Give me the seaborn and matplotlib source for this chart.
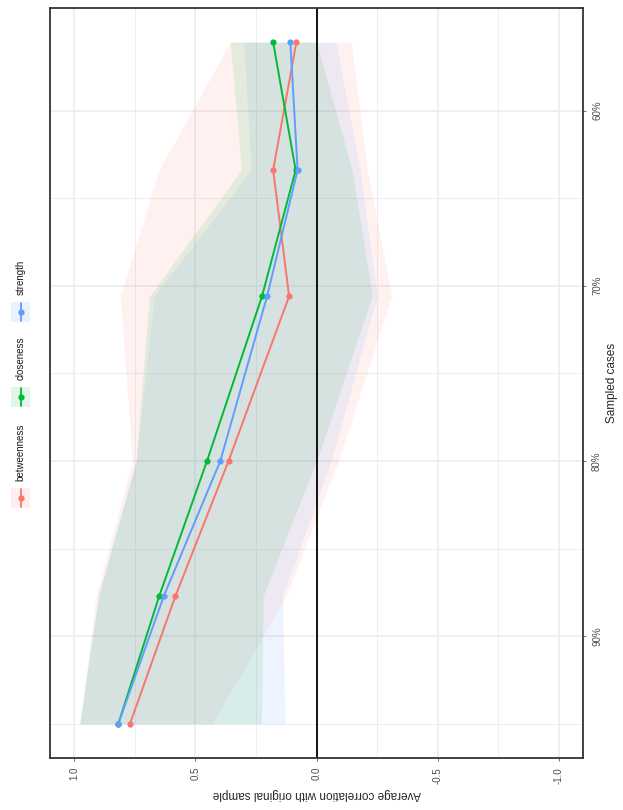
import numpy as np
import pandas as pd
import matplotlib
matplotlib.use("Agg")
import matplotlib.pyplot as plt
from matplotlib.patches import Rectangle
import seaborn as sns

sns.set_theme(style="white")
plt.rcParams["font.family"] = ["Liberation Sans", "DejaVu Sans"]

# bootstrap case-dropping summary (plot is drawn rotated 90 degrees)
measures = ["betweenness", "closeness", "strength"]
colors = ["#F8766D", "#00BA38", "#619CFF"]
sampled = [56.1, 63.4, 70.6, 80.0, 87.7, 95.0]

mean_b = [0.083, 0.179, 0.113, 0.363, 0.582, 0.770]
mean_c = [0.179, 0.086, 0.225, 0.452, 0.649, 0.818]
mean_s = [0.108, 0.078, 0.204, 0.397, 0.630, 0.818]

lo_b = [-0.143, -0.21, -0.31, -0.09, 0.125, 0.43]
hi_b = [0.356, 0.65, 0.81, 0.76, 0.91, 0.975]
lo_c = [0.0, -0.147, -0.23, 0.0, 0.22, 0.227]
hi_c = [0.356, 0.31, 0.69, 0.745, 0.90, 0.98]
lo_s = [-0.08, -0.18, -0.25, -0.06, 0.14, 0.13]
hi_s = [0.30, 0.27, 0.67, 0.745, 0.90, 0.975]

x_ticks = [1.0, 0.5, 0.0, -0.5, -1.0]
y_ticks = [60, 70, 80, 90]
y_tick_labels = ["60%", "70%", "80%", "90%"]

means = {"betweenness": mean_b, "closeness": mean_c, "strength": mean_s}
bands = {"betweenness": (lo_b, hi_b), "closeness": (lo_c, hi_c), "strength": (lo_s, hi_s)}

df = pd.concat([
    pd.DataFrame({"measure": m, "sampled": sampled, "corr": means[m]}) for m in measures
])

W, H = 623, 810
fig = plt.figure(figsize=(W / 100, H / 100), dpi=100)
ax = fig.add_axes([50 / W, 1 - 758 / H, 533 / W, 750 / H])

for m, col in zip(measures, colors):
    lo, hi = bands[m]
    ax.fill_betweenx(sampled, lo, hi, color=col, alpha=0.1, linewidth=0)

ax.axvline(0, color="black", lw=1.3, zorder=2)

sns.lineplot(data=df, x="corr", y="sampled", hue="measure", hue_order=measures,
             palette=colors, orient="y", marker="o", markersize=4.5, markeredgewidth=0,
             linewidth=1.4, legend=False, ax=ax, zorder=3)

ax.set_xlim(1.1, -1.1)
ax.set_ylim(96.95, 54.15)
ax.set_xticks(x_ticks)
ax.set_xticklabels([f"{v:.1f}" for v in x_ticks])
ax.set_xticks([0.75, 0.25, -0.25, -0.75], minor=True)
ax.set_yticks(y_ticks)
ax.set_yticklabels(y_tick_labels)
ax.set_yticks([65, 75, 85, 95], minor=True)
ax.yaxis.tick_right()
ax.yaxis.set_label_position("right")

ax.grid(which="major", color="#EBEBEB", lw=1.1, zorder=0)
ax.grid(which="minor", color="#EBEBEB", lw=0.6, zorder=0)
ax.set_axisbelow(True)

for s in ax.spines.values():
    s.set_color("#333333")
    s.set_linewidth(1.3)

ax.tick_params(axis="x", which="major", labelrotation=90, labelsize=7, labelcolor="#4D4D4D",
               length=2.5, width=0.5, color="#333333", pad=4, bottom=True)
ax.tick_params(axis="y", which="major", labelrotation=90, labelsize=7, labelcolor="#4D4D4D",
               length=2.5, width=0.5, color="#333333", pad=4, right=True, left=False)
ax.tick_params(which="minor", length=0)
for lab in ax.get_yticklabels():
    lab.set_va("center")

ax.set_xlabel("Average correlation with original sample", rotation=180, fontsize=8.5, labelpad=3)
ax.set_ylabel("Sampled cases", rotation=90, fontsize=8.5, labelpad=3)

# legend, rotated along the left edge
lax = fig.add_axes([0, 0, 50 / W, 1])
lax.set_xlim(0, 50)
lax.set_ylim(H, 0)
lax.axis("off")
key_y = [498, 397, 312]
for m, col, ky in zip(measures, colors, key_y):
    lax.add_patch(Rectangle((11, ky - 10), 19, 20, facecolor=col, alpha=0.12, lw=0))
    lax.plot([20.5, 20.5], [ky - 9, ky + 9], color=col, lw=1.3)
    lax.plot([20.5], [ky], marker="o", color=col, markersize=4.5, markeredgewidth=0)
    lax.text(20.5, ky - 17, m, rotation=90, ha="center", va="bottom", fontsize=7, color="#1A1A1A")

fig.savefig("out.png", dpi=100, facecolor="white")
